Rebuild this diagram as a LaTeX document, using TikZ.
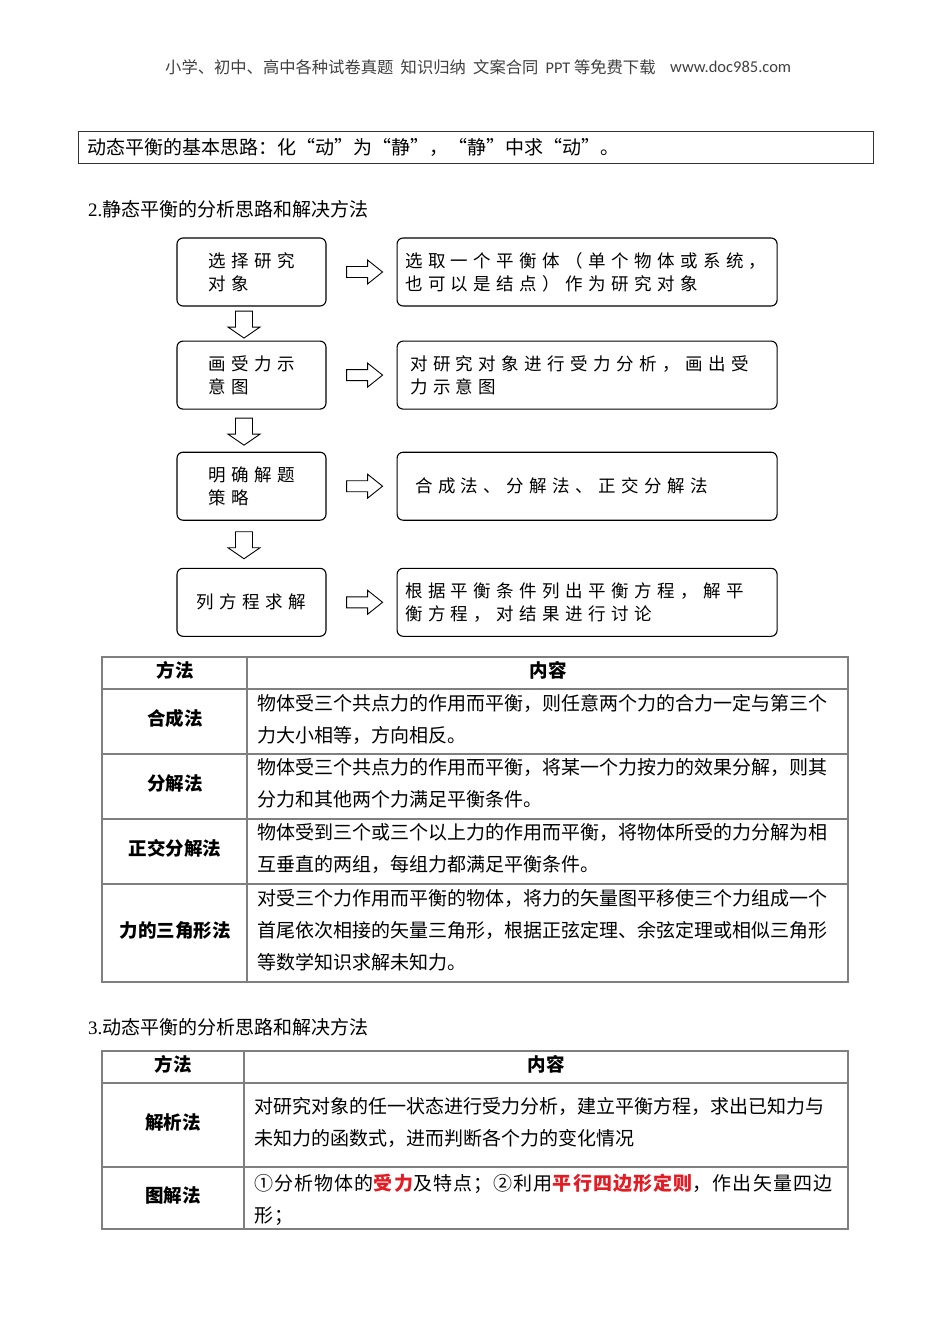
\documentclass[tikz,border=0pt]{standalone}
\usepackage{fontspec}
\setmainfont{Liberation Serif}
\newfontfamily\cjk{Noto Sans CJK SC}
\newfontfamily\cjkwide[LetterSpace=6]{Noto Sans CJK SC}
\newfontfamily\flowcjk[LetterSpace=31]{Noto Sans CJK SC}
\newfontfamily\calibri{Carlito}
\usetikzlibrary{calc,positioning}
\definecolor{tablegray}{HTML}{7F7F7F}
\definecolor{noteRed}{HTML}{E31B23}

% hollow block arrows, placed at a named point
\newcommand{\rightblock}[1]{\draw[hollowarr,shift={(#1)}] (-18,-5.5)--(3,-5.5)--(3,-12)--(18,0)--(3,12)--(3,5.5)--(-18,5.5)--cycle;}
\newcommand{\downblock}[1]{\draw[hollowarr,shift={(#1)}] (-8.5,-13.5)--(8.5,-13.5)--(8.5,2.5)--(16,2.5)--(0,13.5)--(-16,2.5)--(-8.5,2.5)--cycle;}

\begin{document}
\begin{tikzpicture}[x=1pt,y=-1pt,
  stepbox/.style={draw,line width=1.1pt,rounded corners=6pt,minimum height=68pt,font=\flowcjk\fontsize{17.5}{23}\selectfont},
  leftbox/.style={stepbox,minimum width=149pt,inner xsep=6pt,align=left},
  rightbox/.style={stepbox,minimum width=380pt,inner xsep=8pt,text width=364pt,align=left},
  hollowarr/.style={draw,line width=0.9pt,fill=white,line join=miter},
  tabline/.style={draw=tablegray,line width=1.6pt},
  cell/.style={font=\cjk\fontsize{19}{32}\selectfont,align=left,anchor=west,inner sep=0pt},
  head/.style={font=\cjk\bfseries\fontsize{18.5}{22}\selectfont,inner sep=0pt},
  plain/.style={anchor=west,inner sep=0pt}]
\fill[white] (0,0) rectangle (950,1344);
\useasboundingbox (0,0) rectangle (950,1344);

% page header
\node[plain,font=\cjk\fontsize{16.3}{16.3}\selectfont,text=black!75] (pagehead) at (165,67)
  {小学、初中、高中各种试卷真题\ \ 知识归纳\ \ 文案合同\ \ {\calibri PPT}\ 等免费下载};
\node[plain,font=\calibri\fontsize{16.5}{16.5}\selectfont,text=black!75] (site) at (670,67) {www.doc985.com};

\node[draw=black!80,line width=0.9pt,minimum width=795pt,minimum height=32pt,inner xsep=9pt,text width=777pt,align=left,
  font=\cjk\fontsize{19}{19}\selectfont] (idea) at (475.5,147) {动态平衡的基本思路：化“动”为“静”，“静”中求“动”。};

\node[plain,font=\fontsize{19}{19}\selectfont] (sec2) at (88,209) {2.{\cjk 静态平衡的分析思路和解决方法}};

% flow chart
\node[leftbox] (l1) at (251.5,272) {选择研究\\对象};
\node[leftbox,below=34pt of l1] (l2) {画受力示\\意图};
\node[leftbox,below=42pt of l2] (l3) {明确解题\\策略};
\node[leftbox,below=47pt of l3] (l4) {列方程求解};
\node[rightbox,right=70pt of l1] (r1) {选取一个平衡体（单个物体或系统，\\也可以是结点）作为研究对象};
\node[rightbox,right=70pt of l2] (r2) {\hspace*{5pt}对研究对象进行受力分析，画出受\\\hspace*{5pt}力示意图};
\node[rightbox,right=70pt of l3] (r3) {\hspace*{10pt}合成法、分解法、正交分解法};
\node[rightbox,right=70pt of l4] (r4) {根据平衡条件列出平衡方程，解平\\衡方程，对结果进行讨论};
\foreach \n in {1,2,3,4} {\rightblock{$(l\n.east)!0.5!(r\n.west)+(3,0)$}}
\foreach \a/\b in {l1/l2,l2/l3,l3/l4} {\downblock{$(\a.south)!0.5!(\b.north)+(-7.5,1)$}}

% static methods table
\draw[tabline] (102,657) rectangle (848,982);
\foreach \y in {689,754,819,884} \draw[tabline] (102,\y)--(848,\y);
\draw[tabline] (247,657)--(247,982);
\node[head] (sA) at (175,670) {方法};
\node[head] (sB) at (548,670) {内容};
\node[head] (s1) at (175,718) {合成法};
\node[head] (s2) at (175,783) {分解法};
\node[head] (s3) at (175,848) {正交分解法};
\node[head] (s4) at (175,930) {力的三角形法};
\node[cell] (c1) at (257,719) {物体受三个共点力的作用而平衡，则任意两个力的合力一定与第三个\\力大小相等，方向相反。};
\node[cell] (c2) at (257,783) {物体受三个共点力的作用而平衡，将某一个力按力的效果分解，则其\\分力和其他两个力满足平衡条件。};
\node[cell] (c3) at (257,848) {物体受到三个或三个以上力的作用而平衡，将物体所受的力分解为相\\互垂直的两组，每组力都满足平衡条件。};
\node[cell] (c4) at (257,930) {对受三个力作用而平衡的物体，将力的矢量图平移使三个力组成一个\\首尾依次相接的矢量三角形，根据正弦定理、余弦定理或相似三角形\\等数学知识求解未知力。};

\node[plain,font=\fontsize{19}{19}\selectfont] (sec3) at (88,1027) {3.{\cjk 动态平衡的分析思路和解决方法}};

% dynamic methods table
\draw[tabline] (102,1051) rectangle (848,1229);
\foreach \y in {1083,1167} \draw[tabline] (102,\y)--(848,\y);
\draw[tabline] (244,1051)--(244,1229);
\node[head] (dA) at (173,1064) {方法};
\node[head] (dB) at (546,1064) {内容};
\node[head] (d1) at (173,1122) {解析法};
\node[head] (d2) at (173,1195) {图解法};
\node[cell] (e1) at (254,1122) {对研究对象的任一状态进行受力分析，建立平衡方程，求出已知力与\\未知力的函数式，进而判断各个力的变化情况};
\node[cell,font=\cjkwide\fontsize{19}{32}\selectfont] (e2) at (254,1200) {①分析物体的{\color{noteRed}\bfseries 受力}及特点；②利用{\color{noteRed}\bfseries 平行四边形定则}，作出矢量四边\\形；};
\end{tikzpicture}
\end{document}
